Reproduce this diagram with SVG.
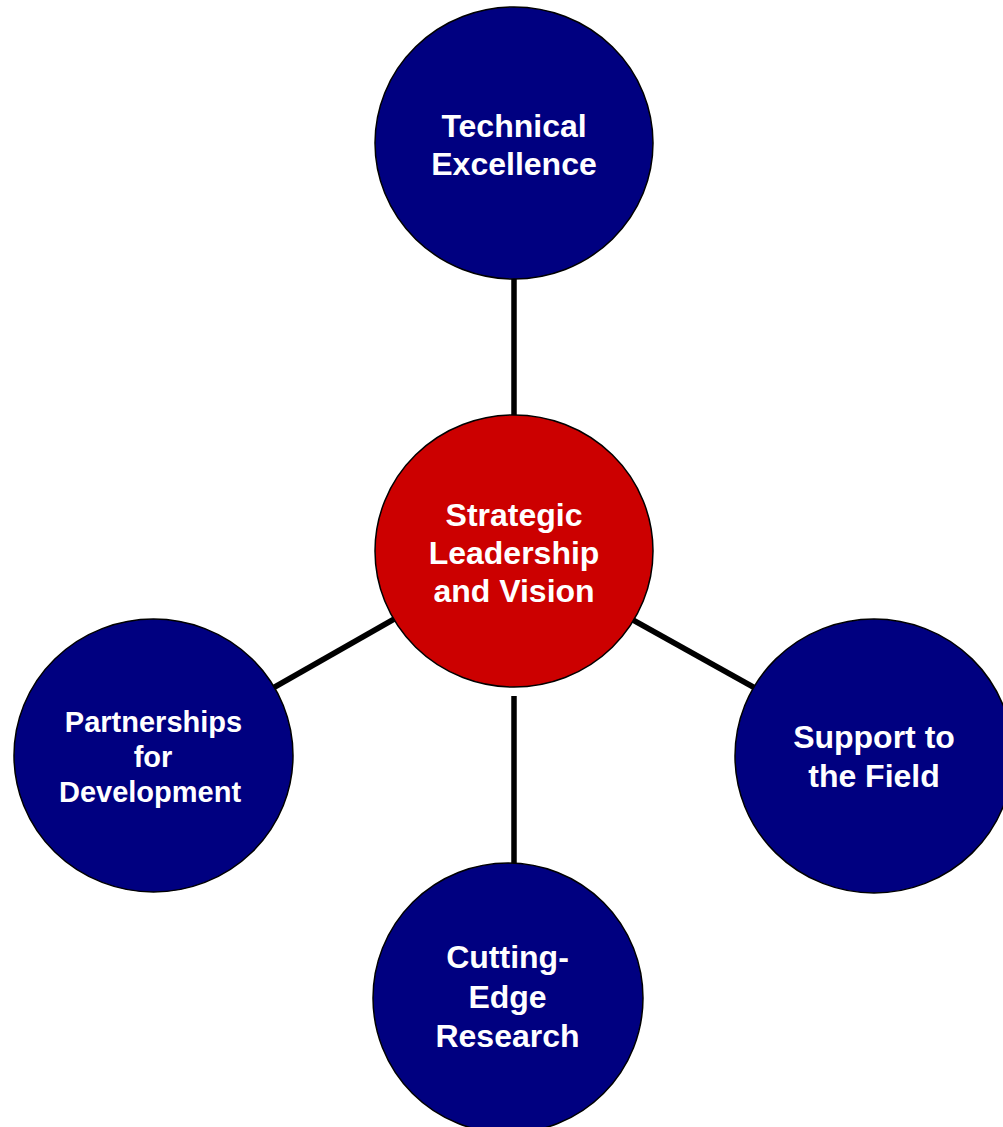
<svg xmlns="http://www.w3.org/2000/svg" width="1003" height="1127" viewBox="0 0 1003 1127">
<style>
.node{stroke:#000;stroke-width:1.5}
.blue{fill:#000080}
.red{fill:#CC0000}
.lbl{font-family:"Liberation Sans",Arial,sans-serif;font-weight:bold;font-size:32px;fill:#fff;text-anchor:middle}
.sm{font-size:29px}
.conn{stroke:#000;stroke-width:5.5;fill:none}
</style>
<rect width="1003" height="1127" fill="#fff"/>
<g id="connectors">
<line class="conn" x1="514" y1="279" x2="514" y2="415"/>
<line class="conn" x1="514" y1="696" x2="514" y2="863"/>
<line class="conn" x1="273" y1="688" x2="396" y2="618"/>
<line class="conn" x1="633" y1="620" x2="755" y2="688"/>
</g>
<g id="node-technical">
<ellipse class="node blue" cx="514" cy="143" rx="139" ry="136"/>
<text class="lbl" x="514" y="137">Technical</text>
<text class="lbl" x="514" y="175">Excellence</text>
</g>
<g id="node-strategic">
<ellipse class="node red" cx="514" cy="551" rx="139" ry="136"/>
<text class="lbl" x="514" y="526">Strategic</text>
<text class="lbl" x="514" y="564">Leadership</text>
<text class="lbl" x="514" y="602">and Vision</text>
</g>
<g id="node-partnerships">
<ellipse class="node blue" cx="153.5" cy="755.5" rx="139.5" ry="136.5"/>
<text class="lbl sm" x="153.5" y="732">Partnerships</text>
<text class="lbl sm" x="153" y="767">for</text>
<text class="lbl sm" x="150" y="802">Development</text>
</g>
<g id="node-support">
<ellipse class="node blue" cx="874" cy="756" rx="139" ry="137"/>
<text class="lbl" x="874" y="748">Support to</text>
<text class="lbl" x="874" y="787">the Field</text>
</g>
<g id="node-research">
<ellipse class="node blue" cx="508" cy="998" rx="135" ry="135"/>
<text class="lbl" x="507.5" y="968">Cutting-</text>
<text class="lbl" x="507.5" y="1008">Edge</text>
<text class="lbl" x="507.5" y="1047">Research</text>
</g>
</svg>
